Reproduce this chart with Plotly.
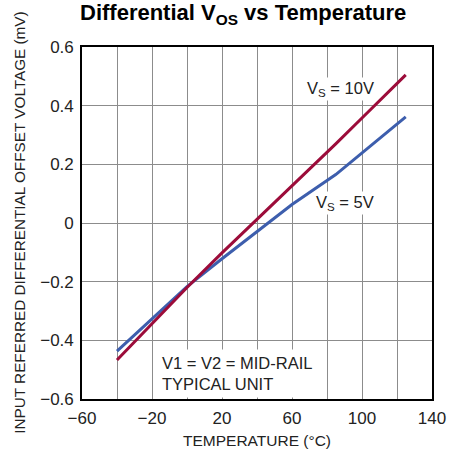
import plotly.graph_objects as go

temp_5v = [-40, -20, 0, 20, 40, 60, 85, 100, 125]
vos_5v = [-0.437, -0.327, -0.217, -0.122, -0.028, 0.063, 0.165, 0.240, 0.362]

temp_10v = [-40, -20, 0, 20, 40, 60, 85, 100, 125]
vos_10v = [-0.467, -0.345, -0.220, -0.102, 0.012, 0.124, 0.270, 0.358, 0.505]

x_range = [-60, 140]
y_range = [-0.6, 0.6]

FONT = "Liberation Sans, Arial, sans-serif"
RED = "#9C0C3A"
BLUE = "#3D5EAD"
GRID = "#8c8c8c"

# plot area in page px: x 81.7..432.3, y 47.3..399
PW, PH = 350.6, 351.7
def px(xp):
    return (xp - 81.7) / PW
def py(yp):
    return (399 - yp) / PH

fig = go.Figure()
fig.add_trace(go.Scatter(x=temp_5v, y=vos_5v, mode="lines",
                         line=dict(color=BLUE, width=3), showlegend=False))
fig.add_trace(go.Scatter(x=temp_10v, y=vos_10v, mode="lines",
                         line=dict(color=RED, width=3), showlegend=False))

axis_common = dict(showgrid=True, gridcolor=GRID, gridwidth=1.2,
                   showline=True, linecolor="black", linewidth=1.6, mirror=True,
                   ticks="", zeroline=False, automargin=False,
                   tickfont=dict(family=FONT, size=17, color="#222"))

fig.update_xaxes(range=x_range, tickmode="linear", tick0=-60, dtick=40,
                 minor=dict(tickmode="linear", tick0=-60, dtick=20, showgrid=True,
                            gridcolor=GRID, gridwidth=1.2, ticks=""),
                 ticklabelstandoff=3, **axis_common)
fig.update_yaxes(range=y_range, tickmode="linear", tick0=-0.6, dtick=0.2,
                 ticklabelstandoff=3, **axis_common)

annos = [
    dict(text="<b>Differential V<sub>OS</sub> vs Temperature</b>", xref="paper", yref="paper",
         x=px(242.5), y=py(14), xanchor="center", yanchor="middle",
         showarrow=False, font=dict(family=FONT, size=22, color="black")),
    dict(text="INPUT REFERRED DIFFERENTIAL OFFSET VOLTAGE (mV)", xref="paper", yref="paper",
         x=px(19.5), y=py(223), textangle=-90,
         xanchor="center", yanchor="middle", showarrow=False,
         font=dict(family=FONT, size=15.3, color="#222")),
    dict(text="TEMPERATURE (°C)", xref="paper", yref="paper",
         x=px(257), y=py(440), xanchor="center", yanchor="middle",
         showarrow=False, font=dict(family=FONT, size=15.5, color="#222")),
    dict(text="V<sub>S</sub> = 10V", x=87.6, y=0.458, xref="x", yref="y",
         showarrow=False, bgcolor="white", borderpad=1,
         font=dict(family=FONT, size=16.5, color="#222")),
    dict(text="V<sub>S</sub> = 5V", x=90.4, y=0.069, xref="x", yref="y",
         showarrow=False, bgcolor="white", borderpad=1,
         font=dict(family=FONT, size=16.5, color="#222")),
    dict(text="V1 = V2 = MID-RAIL<br>TYPICAL UNIT", x=-17.1, y=-0.512, xref="x", yref="y",
         xanchor="left", yanchor="middle", align="left",
         showarrow=False, bgcolor="white", borderpad=4,
         font=dict(family=FONT, size=16.5, color="#222")),
]

fig.update_layout(width=451, height=455, margin=dict(l=81.7, r=18.7, t=47.3, b=56),
                  plot_bgcolor="white", paper_bgcolor="white", annotations=annos)

fig.write_html("out.html", config={"displayModeBar": False},
               post_script="document.body.style.margin='0';document.body.style.padding='0';")
